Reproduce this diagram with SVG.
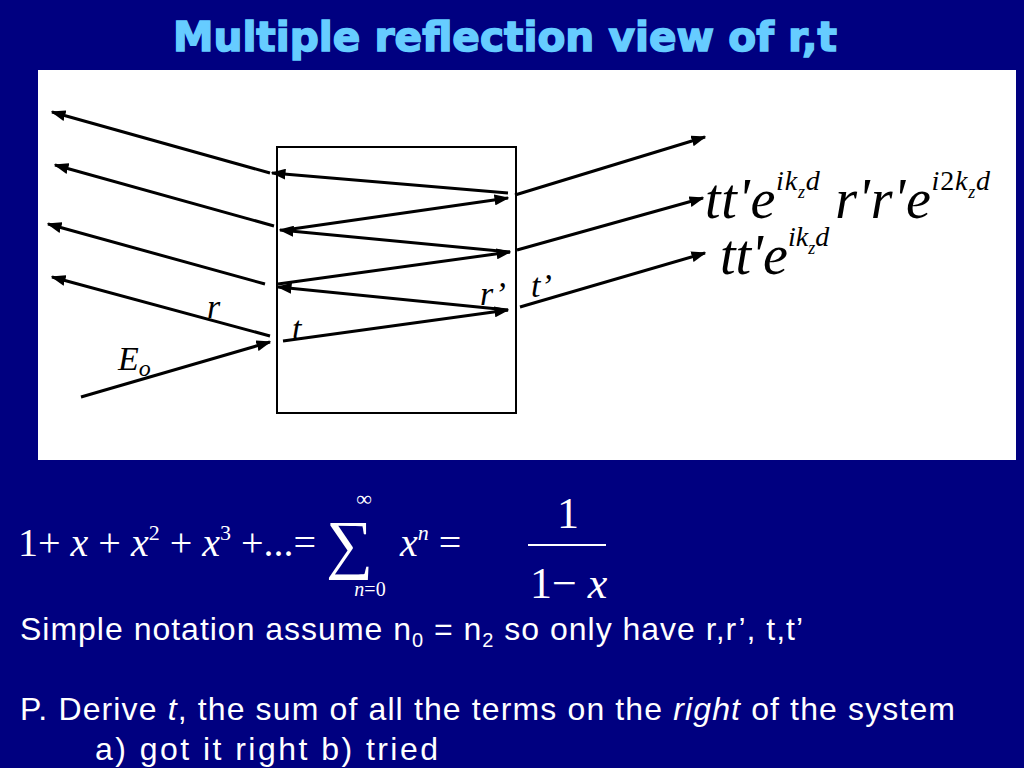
<svg xmlns="http://www.w3.org/2000/svg" width="1024" height="768" viewBox="0 0 1024 768">
<defs>
<marker id="ah" viewBox="0 0 10 10" refX="9" refY="5" markerWidth="15" markerHeight="11" markerUnits="userSpaceOnUse" orient="auto" preserveAspectRatio="none"><path d="M0,0 L10,5 L0,10 z" fill="#000"/></marker>
<style>
.ln{stroke:#000;stroke-width:3;fill:none}
.m{font-family:"Liberation Serif",serif;font-style:italic;fill:#000}
.w{font-family:"Liberation Sans",Arial,sans-serif;fill:#fff;font-size:32px}
.f{font-family:"Liberation Serif",serif;fill:#fff}
</style>
</defs>
<rect width="1024" height="768" fill="#000080"/>
<text x="505" y="51" text-anchor="middle" font-family="'DejaVu Sans', sans-serif" font-weight="700" font-size="40" fill="#66CCFF" stroke="#66CCFF" stroke-width="1.5" textLength="664" lengthAdjust="spacingAndGlyphs">Multiple reflection view of r,t</text>
<rect x="38" y="70" width="978" height="390" fill="#fff"/>
<g id="slab"><rect x="277" y="147" width="239" height="266" fill="none" stroke="#000" stroke-width="2"/></g>
<g id="connectors">
<line class="ln" x1="270" y1="173" x2="52" y2="112" marker-end="url(#ah)"/>
<line class="ln" x1="274" y1="226" x2="55" y2="165" marker-end="url(#ah)"/>
<line class="ln" x1="265" y1="284" x2="48" y2="224" marker-end="url(#ah)"/>
<line class="ln" x1="270" y1="336" x2="52" y2="277" marker-end="url(#ah)"/>
<line class="ln" x1="81" y1="397" x2="270" y2="342" marker-end="url(#ah)"/>
<line class="ln" x1="283" y1="341" x2="508" y2="310" marker-end="url(#ah)"/>
<line class="ln" x1="508" y1="310" x2="278" y2="287" marker-end="url(#ah)"/>
<line class="ln" x1="278" y1="284" x2="510" y2="252" marker-end="url(#ah)"/>
<line class="ln" x1="510" y1="252" x2="280" y2="230" marker-end="url(#ah)"/>
<line class="ln" x1="285" y1="230" x2="508" y2="198" marker-end="url(#ah)"/>
<line class="ln" x1="508" y1="193" x2="272" y2="173" marker-end="url(#ah)"/>
<line class="ln" x1="515" y1="195" x2="705" y2="137" marker-end="url(#ah)"/>
<line class="ln" x1="517" y1="250" x2="703" y2="198" marker-end="url(#ah)"/>
<line class="ln" x1="520" y1="307" x2="705" y2="253" marker-end="url(#ah)"/>
</g>
<g id="labels" class="m" font-size="34">
<text x="207" y="318">r</text>
<text x="480" y="305">r’</text>
<text x="531" y="297">t’</text>
<text x="292" y="340">t</text>
<text x="118" y="370">E<tspan font-size="24" dy="6">o</tspan></text>
</g>
<g id="eq1" class="m">
<text x="705" y="218" font-size="56" textLength="285">tt'e<tspan font-size="28" dy="-28">ik</tspan><tspan font-size="18" dy="8">z</tspan><tspan font-size="28" dy="-8">d</tspan><tspan dy="28" font-size="56"> r'r'e</tspan><tspan font-size="28" dy="-28" font-style="normal"><tspan font-style="italic">i</tspan>2<tspan font-style="italic">k</tspan></tspan><tspan font-size="18" dy="8">z</tspan><tspan font-size="28" dy="-8">d</tspan></text>
<text x="720" y="274" font-size="56">tt'e<tspan font-size="28" dy="-28">ik</tspan><tspan font-size="18" dy="8">z</tspan><tspan font-size="28" dy="-8">d</tspan></text>
</g>
<g id="series" class="f">
<text x="18" y="556" font-size="40">1+ <tspan font-style="italic">x</tspan> + <tspan font-style="italic">x</tspan><tspan font-size="22" dy="-16">2</tspan><tspan dy="16"> + </tspan><tspan font-style="italic">x</tspan><tspan font-size="22" dy="-16">3</tspan><tspan dy="16"> +...=</tspan></text>
<text x="326" y="566" font-size="66">∑</text>
<text x="364" y="506" font-size="22" text-anchor="middle">∞</text>
<text x="370" y="596" font-size="20" text-anchor="middle"><tspan font-style="italic">n</tspan>=0</text>
<text x="400" y="556" font-size="40"><tspan font-style="italic">x</tspan><tspan font-size="22" dy="-16" font-style="italic">n</tspan><tspan dy="16"> =</tspan></text>
<text x="568" y="528" font-size="44" text-anchor="middle">1</text>
<line x1="528" y1="545" x2="606" y2="545" stroke="#fff" stroke-width="2"/>
<text x="530" y="598" font-size="44">1− <tspan font-style="italic">x</tspan></text>
</g>
<g id="text">
<text class="w" x="20" y="640" textLength="783">Simple notation assume  n<tspan font-size="20" dy="7">0</tspan><tspan dy="-7"> = n</tspan><tspan font-size="20" dy="7">2</tspan><tspan dy="-7"> so only have r,r’, t,t’</tspan></text>
<text class="w" x="20" y="720" textLength="935">P.  Derive <tspan font-style="italic">t</tspan>, the sum of all the terms on the <tspan font-style="italic">right</tspan> of the system</text>
<text class="w" x="95" y="760" textLength="343">a) got it right  b) tried</text>
</g>
</svg>
